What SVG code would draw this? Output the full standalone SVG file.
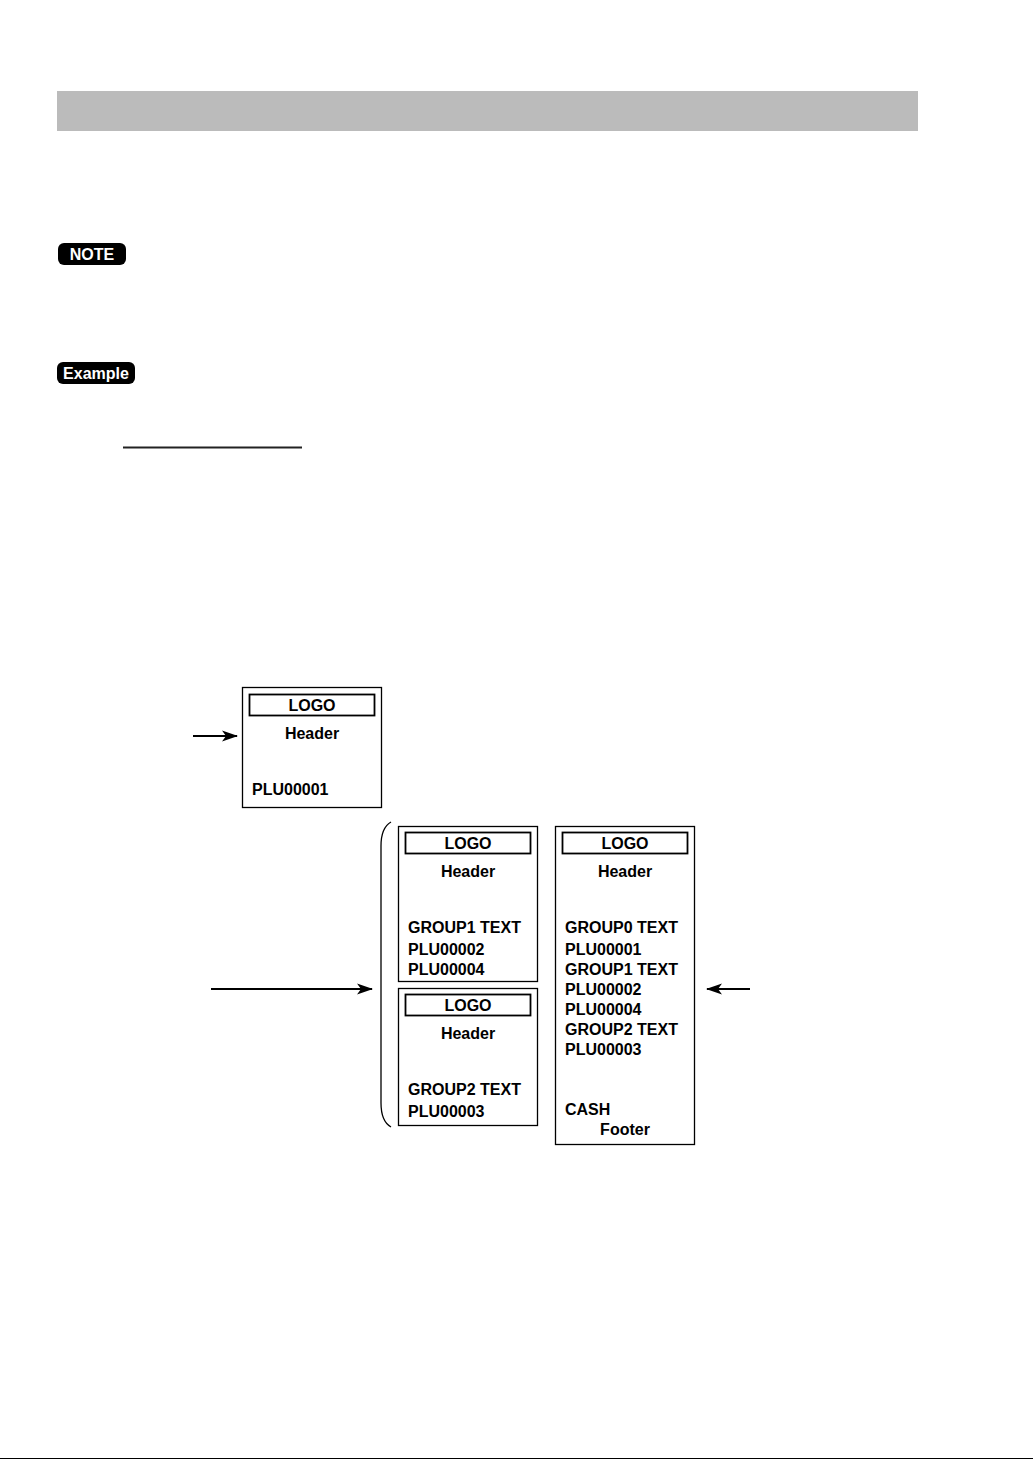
<svg xmlns="http://www.w3.org/2000/svg" width="1033" height="1459" viewBox="0 0 1033 1459">
<style>
.t{font-family:"Liberation Sans",Arial,sans-serif;font-weight:bold;font-size:16px;fill:#000}
.c{text-anchor:middle}
.box{fill:#fff;stroke:#000;stroke-width:1.3}
.logo{fill:none;stroke:#000;stroke-width:1.8}
.badge{font-family:"Liberation Sans",Arial,sans-serif;font-weight:bold;font-size:16px;fill:#fff;text-anchor:middle}
.conn{stroke:#000;stroke-width:2;fill:none}
</style>
<defs>
<marker id="ah" markerWidth="16" markerHeight="12" refX="15" refY="6" orient="auto" markerUnits="userSpaceOnUse">
<path d="M0,0.5 L16,6 L0,11.5 L4,6 Z" fill="#000"/>
</marker>
</defs>
<rect x="0" y="0" width="1033" height="1459" fill="#fff"/>
<rect x="57" y="91" width="861" height="40" fill="#bbbbbb"/>
<g id="note">
<rect x="58" y="243" width="68" height="22" rx="6" fill="#000"/>
<text class="badge" x="92" y="260">NOTE</text>
</g>
<g id="example">
<rect x="57" y="362" width="78" height="22" rx="6" fill="#000"/>
<text class="badge" x="96" y="379">Example</text>
</g>
<line x1="123" y1="447.5" x2="302" y2="447.5" stroke="#222" stroke-width="2"/>
<g id="receiptA">
<rect class="box" x="242.5" y="687.5" width="139" height="120" stroke-width="1.6"/>
<rect class="logo" x="249.5" y="694.5" width="125" height="21"/>
<text class="t c" x="312" y="711">LOGO</text>
<text class="t c" x="312" y="739">Header</text>
<text class="t" x="252" y="795">PLU00001</text>
</g>
<g id="receiptB1">
<rect class="box" x="398.5" y="826.5" width="139" height="155"/>
<rect class="logo" x="405.5" y="832.5" width="125" height="21"/>
<text class="t c" x="468" y="849">LOGO</text>
<text class="t c" x="468" y="877">Header</text>
<text class="t" x="408" y="933">GROUP1 TEXT</text>
<text class="t" x="408" y="955">PLU00002</text>
<text class="t" x="408" y="975">PLU00004</text>
</g>
<g id="receiptB2">
<rect class="box" x="398.5" y="988.5" width="139" height="137"/>
<rect class="logo" x="405.5" y="994.5" width="125" height="21"/>
<text class="t c" x="468" y="1011">LOGO</text>
<text class="t c" x="468" y="1039">Header</text>
<text class="t" x="408" y="1095">GROUP2 TEXT</text>
<text class="t" x="408" y="1117">PLU00003</text>
</g>
<g id="receiptC">
<rect class="box" x="555.5" y="826.5" width="139" height="318"/>
<rect class="logo" x="562.5" y="832.5" width="125" height="21"/>
<text class="t c" x="625" y="849">LOGO</text>
<text class="t c" x="625" y="877">Header</text>
<text class="t" x="565" y="933">GROUP0 TEXT</text>
<text class="t" x="565" y="955">PLU00001</text>
<text class="t" x="565" y="975">GROUP1 TEXT</text>
<text class="t" x="565" y="995">PLU00002</text>
<text class="t" x="565" y="1015">PLU00004</text>
<text class="t" x="565" y="1035">GROUP2 TEXT</text>
<text class="t" x="565" y="1055">PLU00003</text>
<text class="t" x="565" y="1115">CASH</text>
<text class="t c" x="625" y="1135">Footer</text>
</g>
<g id="connectors">
<path d="M391,822 C384,826 381,834 381,846 L381,1103 C381,1115 384,1123 391,1127" fill="none" stroke="#000" stroke-width="1.3"/>
<line class="conn" x1="193" y1="736" x2="237" y2="736" marker-end="url(#ah)"/>
<line class="conn" x1="211" y1="989" x2="372" y2="989" marker-end="url(#ah)"/>
<line class="conn" x1="750" y1="989" x2="707" y2="989" marker-end="url(#ah)"/>
</g>
<line x1="0" y1="1458.5" x2="1033" y2="1458.5" stroke="#000" stroke-width="1"/>
</svg>
